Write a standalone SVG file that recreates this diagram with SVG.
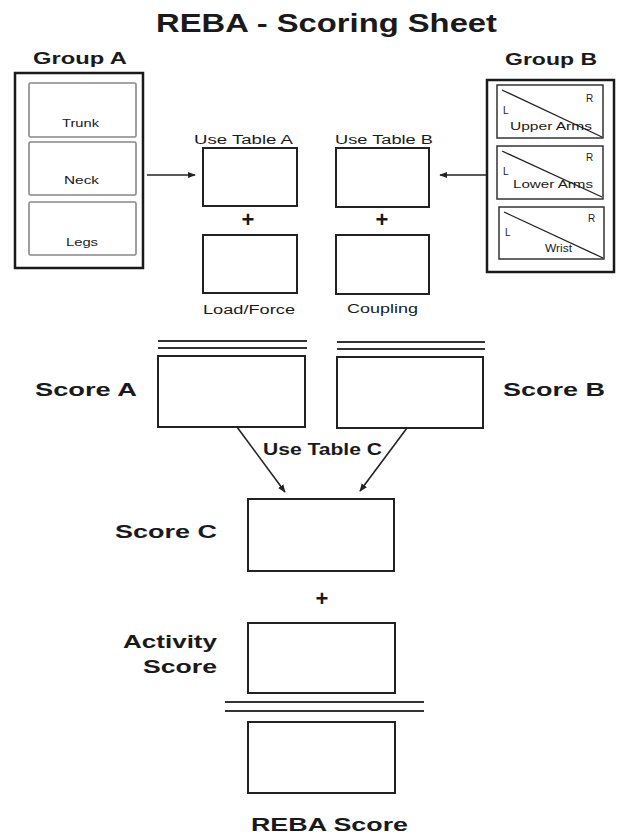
<svg xmlns="http://www.w3.org/2000/svg" width="621" height="836" viewBox="0 0 621 836">
<style>
text{font-family:"Liberation Sans",Arial,sans-serif;fill:#1a1a1a}
.b{font-weight:bold}
.box{fill:#fff;stroke:#222;stroke-width:2}
.outer{fill:#fff;stroke:#1a1a1a;stroke-width:2.5}
.inA{fill:#fff;stroke:#888;stroke-width:1.6}
.inB{fill:#fff;stroke:#333;stroke-width:1.5}
.diag{stroke:#222;stroke-width:1.3}
.dl{stroke:#333;stroke-width:2}
.con{stroke:#222;stroke-width:1.6;fill:none}
.sm{font-size:10px}
.md{font-size:12.5px}
.lg{font-size:19px}
</style>
<defs>
<marker id="ah" viewBox="0 0 10 10" refX="9" refY="5" markerWidth="5" markerHeight="5" orient="auto" markerUnits="strokeWidth">
<path d="M0,1 L10,5 L0,9 z" fill="#222"/>
</marker>
</defs>
<rect width="621" height="836" fill="#fff"/>
<text class="b" x="156" y="32" font-size="26" textLength="341" lengthAdjust="spacingAndGlyphs">REBA - Scoring Sheet</text>

<g id="groupA">
<text class="b" x="33" y="64" font-size="17" textLength="94" lengthAdjust="spacingAndGlyphs">Group A</text>
<rect class="outer" x="15" y="73" width="128" height="195"/>
<rect class="inA" x="29" y="83" width="107" height="54" rx="1.5"/>
<text class="sm" x="62" y="127" textLength="37" lengthAdjust="spacingAndGlyphs" fill="#333">Trunk</text>
<rect class="inA" x="29" y="142" width="107" height="53" rx="1.5"/>
<text class="sm" x="64" y="184" textLength="35" lengthAdjust="spacingAndGlyphs">Neck</text>
<rect class="inA" x="29" y="202" width="107" height="53" rx="1.5"/>
<text class="sm" x="66" y="246" textLength="32" lengthAdjust="spacingAndGlyphs">Legs</text>
</g>

<g id="groupB">
<text class="b" x="505" y="65" font-size="17" textLength="92" lengthAdjust="spacingAndGlyphs">Group B</text>
<rect class="outer" x="487" y="80" width="127" height="192"/>
<rect class="inB" x="497" y="85" width="106" height="53"/>
<line class="diag" x1="502" y1="90" x2="602" y2="137"/>
<text class="sm" x="586" y="102">R</text>
<text class="sm" x="503" y="114">L</text>
<text class="sm" x="510" y="130" textLength="82" lengthAdjust="spacingAndGlyphs">Upper Arms</text>
<rect class="inB" x="497" y="146" width="106" height="53"/>
<line class="diag" x1="502" y1="151" x2="602" y2="197"/>
<text class="sm" x="586" y="161">R</text>
<text class="sm" x="503" y="175">L</text>
<text class="sm" x="513" y="188" textLength="80" lengthAdjust="spacingAndGlyphs">Lower Arms</text>
<rect class="inB" x="499" y="207" width="105" height="52"/>
<line class="diag" x1="504" y1="212" x2="603" y2="258"/>
<text class="sm" x="588" y="222">R</text>
<text class="sm" x="505" y="236">L</text>
<text class="sm" x="545" y="252" textLength="27" lengthAdjust="spacingAndGlyphs">Wrist</text>
</g>

<g id="tableA">
<text class="md" x="194" y="144" textLength="99" lengthAdjust="spacingAndGlyphs">Use Table A</text>
<rect class="box" x="203" y="148" width="94" height="58"/>
</g>
<g id="tableB">
<text class="md" x="335" y="144" textLength="98" lengthAdjust="spacingAndGlyphs">Use Table B</text>
<rect class="box" x="336" y="148" width="93" height="59"/>
</g>
<g id="plusA"><text class="b" x="248" y="227" font-size="22" text-anchor="middle">+</text></g>
<g id="plusB"><text class="b" x="382" y="227" font-size="22" text-anchor="middle">+</text></g>
<g id="loadForce">
<rect class="box" x="203" y="235" width="94" height="58"/>
<text class="md" x="203" y="314" textLength="92" lengthAdjust="spacingAndGlyphs">Load/Force</text>
</g>
<g id="coupling">
<rect class="box" x="336" y="235" width="93" height="59"/>
<text class="md" x="347" y="313" textLength="71" lengthAdjust="spacingAndGlyphs">Coupling</text>
</g>

<g id="scoreA">
<line class="dl" x1="158" y1="341" x2="307" y2="341"/>
<line class="dl" x1="158" y1="348" x2="307" y2="348"/>
<rect class="box" x="158" y="356" width="147" height="71"/>
<text class="b lg" x="35" y="396" textLength="102" lengthAdjust="spacingAndGlyphs">Score A</text>
</g>
<g id="scoreB">
<line class="dl" x1="337" y1="342" x2="485" y2="342"/>
<line class="dl" x1="337" y1="349" x2="485" y2="349"/>
<rect class="box" x="337" y="357" width="146" height="71"/>
<text class="b lg" x="503" y="396" textLength="102" lengthAdjust="spacingAndGlyphs">Score B</text>
</g>

<text class="b" x="263" y="455" font-size="16" textLength="119" lengthAdjust="spacingAndGlyphs">Use Table C</text>

<g id="scoreC">
<rect class="box" x="248" y="499" width="146" height="72"/>
<text class="b lg" x="115" y="538" textLength="102" lengthAdjust="spacingAndGlyphs">Score C</text>
</g>
<g id="plusC"><text class="b" x="322" y="606" font-size="22" text-anchor="middle">+</text></g>
<g id="activity">
<rect class="box" x="248" y="623" width="147" height="70"/>
<text class="b lg" x="123" y="648" textLength="94" lengthAdjust="spacingAndGlyphs">Activity</text>
<text class="b lg" x="143" y="673" textLength="74" lengthAdjust="spacingAndGlyphs">Score</text>
</g>
<g id="reba">
<line class="dl" x1="225" y1="702" x2="424" y2="702"/>
<line class="dl" x1="225" y1="711" x2="424" y2="711"/>
<rect class="box" x="248" y="722" width="147" height="71"/>
<text class="b lg" x="251" y="831" textLength="157" lengthAdjust="spacingAndGlyphs">REBA Score</text>
</g>

<g id="connectors">
<line class="con" x1="147" y1="175" x2="195" y2="175" marker-end="url(#ah)"/>
<line class="con" x1="487" y1="175" x2="440" y2="175" marker-end="url(#ah)"/>
<line class="con" x1="237" y1="427" x2="285" y2="492" marker-end="url(#ah)"/>
<line class="con" x1="407" y1="428" x2="360" y2="491" marker-end="url(#ah)"/>
</g>
</svg>
